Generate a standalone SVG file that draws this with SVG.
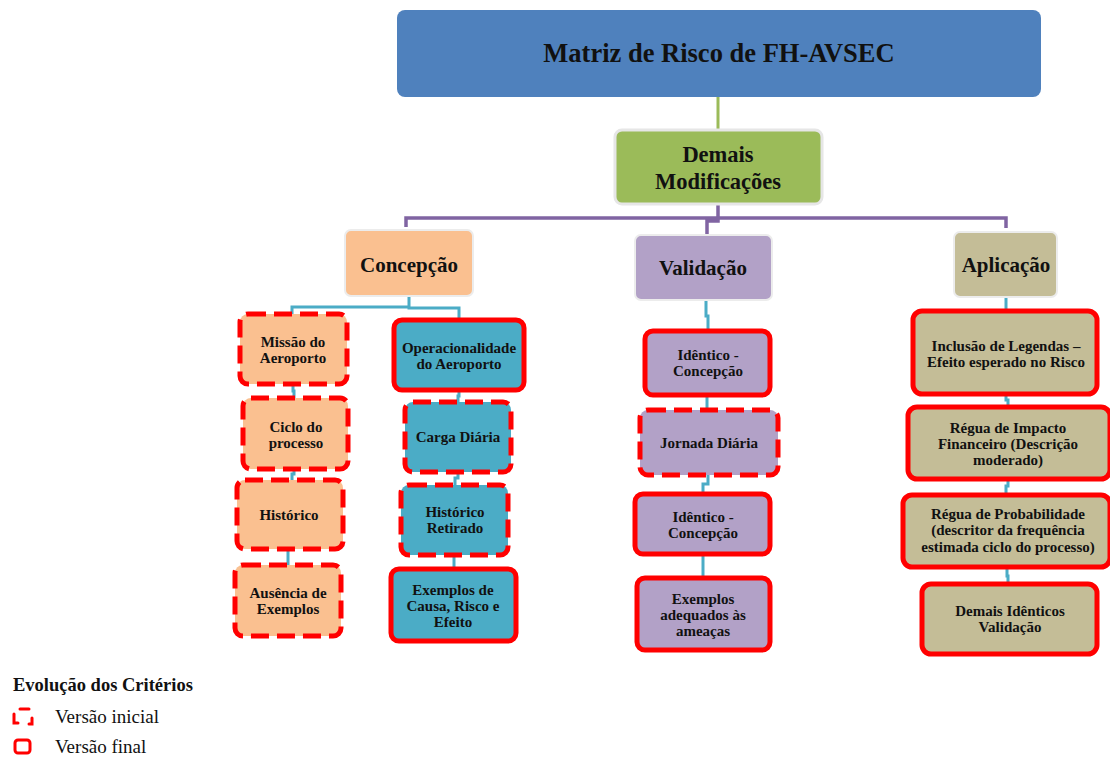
<svg xmlns="http://www.w3.org/2000/svg" width="1110" height="758" viewBox="0 0 1110 758">
  <defs>
    <style>
      text { font-family: "Liberation Serif", "Times New Roman", serif; fill: #111; text-anchor: middle; }
      .title { font-size: 26.5px; font-weight: bold; }
      .lvl { font-size: 21px; font-weight: bold; }
      .lvl-big { font-size: 22.5px; font-weight: bold; }
      .leaf { font-size: 15px; font-weight: bold; }
      .legend-h { font-size: 18.5px; font-weight: bold; text-anchor: start; }
      .legend { font-size: 19px; text-anchor: start; }
      .peach { fill: #FAC090; }
      .teal { fill: #4BACC6; }
      .lilac { fill: #B2A1C7; }
      .khaki { fill: #C4BD97; }
      .halo { stroke: #ECECEC; stroke-width: 2; }
      .initial { stroke: #FF0000; stroke-width: 5; stroke-dasharray: 18 8; }
      .final { stroke: #FF0000; stroke-width: 5; }
      .wire-green { fill: none; stroke: #9BBB59; stroke-width: 3; }
      .wire-purple { fill: none; stroke: #8064A2; stroke-width: 3.5; }
      .wire-teal { fill: none; stroke: #4BACC6; stroke-width: 3; }
    </style>
  </defs>

  <rect width="1110" height="758" fill="#FFFFFF"/>

  <!-- connectors -->
  <g id="connectors">
    <path class="wire-green" d="M718 97 V130"/>
    <path class="wire-purple" d="M718 204 V218 M406 227 V218 H1006 V228 M718 218 V221 H707 V234"/>
    <!-- Concepção branch -->
    <path class="wire-teal" d="M409 296 V306 M292 314 V307 H409 V308 H459 V321"/>
    <path class="wire-teal" d="M293 384 V391 H294 V398"/>
    <path class="wire-teal" d="M294 469 V474 H292 V480"/>
    <path class="wire-teal" d="M288 549 V565"/>
    <path class="wire-teal" d="M459 390 V396 H458 V402"/>
    <path class="wire-teal" d="M458 472 V478 H455 V485"/>
    <path class="wire-teal" d="M454 555 V569"/>
    <!-- Validação branch -->
    <path class="wire-teal" d="M706 300 V316 H708 V331"/>
    <path class="wire-teal" d="M707 395 V410"/>
    <path class="wire-teal" d="M708 475 V484 H703 V494"/>
    <path class="wire-teal" d="M703 554 V578"/>
    <!-- Aplicação branch -->
    <path class="wire-teal" d="M1006 297 V311"/>
    <path class="wire-teal" d="M1006 394 V400 H1008 V407"/>
    <path class="wire-teal" d="M1008 479 V486 H1006 V495"/>
    <path class="wire-teal" d="M1007 567 V576 H1008 V584"/>
  </g>

  <!-- root -->
  <g id="node-root">
    <rect x="397" y="10" width="644" height="87" rx="8" fill="#4F81BD"/>
    <text class="title" x="719" y="62">Matriz de Risco de FH-AVSEC</text>
  </g>

  <g id="node-demais">
    <rect x="615" y="130" width="207" height="74" rx="7" fill="#9BBB59" stroke="#E6E6E6" stroke-width="3"/>
    <text class="lvl-big" x="718" y="162">Demais</text>
    <text class="lvl-big" x="718" y="189">Modificações</text>
  </g>

  <!-- second level -->
  <g id="node-concepcao">
    <rect x="345" y="230" width="128" height="66" rx="6" class="peach halo"/>
    <text class="lvl" x="409" y="272">Concepção</text>
  </g>
  <g id="node-validacao">
    <rect x="635" y="235" width="137" height="65" rx="6" class="lilac halo"/>
    <text class="lvl" x="703" y="275">Validação</text>
  </g>
  <g id="node-aplicacao">
    <rect x="954" y="232" width="103" height="65" rx="6" class="khaki halo"/>
    <text class="lvl" x="1006" y="272">Aplicação</text>
  </g>

  <!-- Concepção, left column -->
  <g id="node-missao">
    <rect x="240" y="314" width="107" height="70" rx="8" class="peach initial"/>
    <text class="leaf" x="293" y="347">Missão do</text>
    <text class="leaf" x="293" y="363">Aeroporto</text>
  </g>
  <g id="node-ciclo">
    <rect x="243" y="398" width="105" height="71" rx="8" class="peach initial"/>
    <text class="leaf" x="296" y="432">Ciclo do</text>
    <text class="leaf" x="296" y="448">processo</text>
  </g>
  <g id="node-historico">
    <rect x="237" y="480" width="106" height="69" rx="8" class="peach initial"/>
    <text class="leaf" x="289" y="520">Histórico</text>
  </g>
  <g id="node-ausencia">
    <rect x="235" y="565" width="106" height="71" rx="8" class="peach initial"/>
    <text class="leaf" x="288" y="598">Ausência de</text>
    <text class="leaf" x="288" y="614">Exemplos</text>
  </g>

  <!-- Concepção, right column -->
  <g id="node-operacionalidade">
    <rect x="394" y="320" width="130" height="70" rx="8" class="teal final"/>
    <text class="leaf" x="459" y="353">Operacionalidade</text>
    <text class="leaf" x="459" y="369">do Aeroporto</text>
  </g>
  <g id="node-carga">
    <rect x="405" y="402" width="106" height="70" rx="8" class="teal initial"/>
    <text class="leaf" x="458" y="442">Carga Diária</text>
  </g>
  <g id="node-historico-retirado">
    <rect x="401" y="485" width="107" height="70" rx="8" class="teal initial"/>
    <text class="leaf" x="455" y="517">Histórico</text>
    <text class="leaf" x="455" y="533">Retirado</text>
  </g>
  <g id="node-exemplos-causa">
    <rect x="391" y="569" width="125" height="72" rx="8" class="teal final"/>
    <text class="leaf" x="453" y="595">Exemplos de</text>
    <text class="leaf" x="453" y="611">Causa, Risco e</text>
    <text class="leaf" x="453" y="627">Efeito</text>
  </g>

  <!-- Validação column -->
  <g id="node-identico-1">
    <rect x="645" y="331" width="125" height="64" rx="8" class="lilac final"/>
    <text class="leaf" x="708" y="360">Idêntico -</text>
    <text class="leaf" x="708" y="376">Concepção</text>
  </g>
  <g id="node-jornada">
    <rect x="640" y="410" width="138" height="65" rx="8" class="lilac initial"/>
    <text class="leaf" x="709" y="448">Jornada Diária</text>
  </g>
  <g id="node-identico-2">
    <rect x="635" y="494" width="135" height="60" rx="8" class="lilac final"/>
    <text class="leaf" x="703" y="522">Idêntico -</text>
    <text class="leaf" x="703" y="538">Concepção</text>
  </g>
  <g id="node-exemplos-ameacas">
    <rect x="637" y="578" width="133" height="72" rx="8" class="lilac final"/>
    <text class="leaf" x="703" y="604">Exemplos</text>
    <text class="leaf" x="703" y="620">adequados às</text>
    <text class="leaf" x="703" y="636">ameaças</text>
  </g>

  <!-- Aplicação column -->
  <g id="node-legendas">
    <rect x="913" y="311" width="184" height="83" rx="9" class="khaki final"/>
    <text class="leaf" x="1006" y="351">Inclusão de Legendas –</text>
    <text class="leaf" x="1006" y="367">Efeito esperado no Risco</text>
  </g>
  <g id="node-impacto">
    <rect x="908" y="407" width="202" height="72" rx="9" class="khaki final"/>
    <text class="leaf" x="1008" y="433">Régua de Impacto</text>
    <text class="leaf" x="1008" y="449">Financeiro (Descrição</text>
    <text class="leaf" x="1008" y="465">moderado)</text>
  </g>
  <g id="node-probabilidade">
    <rect x="903" y="495" width="207" height="72" rx="9" class="khaki final"/>
    <text class="leaf" x="1008" y="519">Régua de Probabilidade</text>
    <text class="leaf" x="1008" y="535">(descritor da frequência</text>
    <text class="leaf" x="1008" y="552">estimada ciclo do processo)</text>
  </g>
  <g id="node-demais-identicos">
    <rect x="922" y="584" width="175" height="70" rx="9" class="khaki final"/>
    <text class="leaf" x="1010" y="616">Demais Idênticos</text>
    <text class="leaf" x="1010" y="632">Validação</text>
  </g>

  <!-- legend -->
  <g id="legend">
    <text class="legend-h" x="13" y="691">Evolução dos Critérios</text>
    <path d="M14 714 V723 H18 M29 724 H32 V718 M20 709 H29" fill="none" stroke="#FF0000" stroke-width="3" stroke-linecap="round"/>
    <text class="legend" x="55" y="723">Versão inicial</text>
    <rect x="15" y="740" width="15" height="13" rx="3" fill="none" stroke="#FF0000" stroke-width="3"/>
    <text class="legend" x="55" y="753">Versão final</text>
  </g>
</svg>
